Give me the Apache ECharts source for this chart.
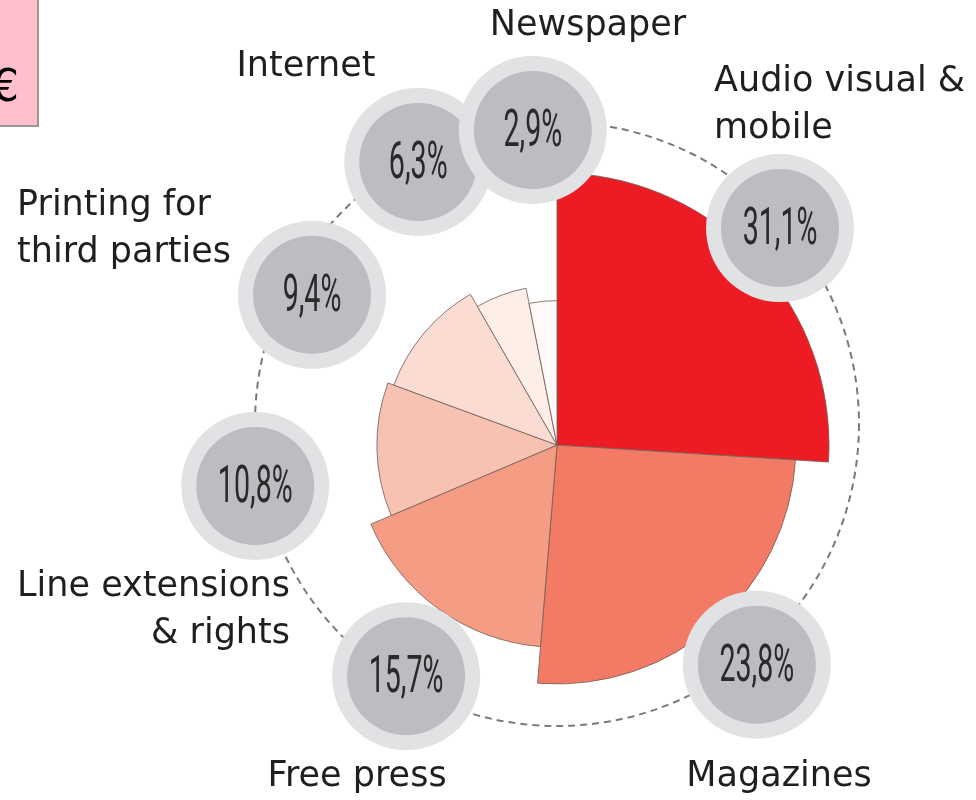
<!DOCTYPE html>
<html>
<head>
<meta charset="utf-8">
<style>
  html, body { margin: 0; padding: 0; background: #ffffff; }
  #chart { width: 976px; height: 800px; }
</style>
<script src="https://cdn.jsdelivr.net/npm/echarts@6/dist/echarts.min.js"></script>
</head>
<body>
<div id="chart"></div>
<script>
// ---- data ----
const categories = ['Audio visual & mobile', 'Magazines', 'Free press', 'Line extensions & rights',
                    'Printing for third parties', 'Internet', 'Newspaper'];
// printed shares (%)
const slicePct = [31.1, 23.8, 15.7, 10.8, 9.4, 6.3, 2.9];
// angular share of each slice as drawn in the source graphic (% of the full circle)
const angleShare = [26.0, 25.3, 17.3, 12.0, 11.1, 5.2, 3.1];
// label texts for the category names (line breaks as printed)
const categoryLabels = ['Audio visual &\nmobile', 'Magazines', 'Free press', 'Line extensions\n& rights',
                        'Printing for\nthird parties', 'Internet', 'Newspaper'];

// ---- styling / layout (not data) ----
const sliceColors = ['#ed1c24', '#f37b66', '#f59c85', '#f8c2b2', '#fbdcd2', '#fdeee8', '#fff9f7'];
// badge placement on the dashed ring: angle (deg, clockwise from top) and distance (ring radii)
const badgeAngle = [48.7, 140.3, 210.9, 258.4, 297.8, 332.1, 355.3];
const badgeDist  = [0.983, 1.036, 0.973, 1.02, 0.917, 0.982, 0.977];

const fmtPct = v => v.toFixed(1).replace('.', ',') + '%';

// cumulative angle extents
const sliceData = [];
let acc = 0;
for (let i = 0; i < slicePct.length; i++) {
  sliceData.push([slicePct[i], acc, acc + angleShare[i]]);
  acc += angleShare[i];
}
const badgeData = slicePct.map((v, i) => [badgeAngle[i], badgeDist[i], v]);

const chart = echarts.init(document.getElementById('chart'), null, { renderer: 'canvas' });

const hiddenAxis = {
  axisLine: { show: false }, axisTick: { show: false }, axisLabel: { show: false },
  splitLine: { show: false }, splitArea: { show: false }
};

const labelFont = { fontFamily: 'DejaVu Sans', fontSize: 35, fill: '#1f1f1f', lineHeight: 47 };

const option = {
  animation: false,
  backgroundColor: '#ffffff',
  polar: [
    { center: [557, 445], radius: 272 },
    { center: [557, 424], radius: 302 }
  ],
  angleAxis: [
    Object.assign({ polarIndex: 0, type: 'value', min: 0, max: 100, startAngle: 90, clockwise: true }, hiddenAxis),
    Object.assign({}, hiddenAxis, {
      polarIndex: 1, type: 'value', min: 0, max: 360, startAngle: 90, clockwise: true,
      axisLine: { show: true, lineStyle: { color: '#7a7a7a', width: 2, type: [7, 5] } }
    })
  ],
  radiusAxis: [
    Object.assign({ polarIndex: 0, type: 'value', min: -29, max: 31.1 }, hiddenAxis),
    Object.assign({ polarIndex: 1, type: 'value', min: 0, max: 1 }, hiddenAxis)
  ],
  series: [
    {
      type: 'custom',
      name: 'slices',
      coordinateSystem: 'polar',
      polarIndex: 0,
      z: 2,
      data: sliceData,
      encode: { radius: 0, angle: 1 },
      renderItem: function (params, api) {
        const cs = params.coordSys;
        const pct = api.value(0);
        const p0 = api.coord([pct, api.value(1)]);
        const p1 = api.coord([pct, api.value(2)]);
        const r = Math.hypot(p0[0] - cs.cx, p0[1] - cs.cy);
        const sa = Math.atan2(p0[1] - cs.cy, p0[0] - cs.cx);
        let ea = Math.atan2(p1[1] - cs.cy, p1[0] - cs.cx);
        while (ea <= sa + 1e-6) ea += Math.PI * 2;
        return {
          type: 'sector',
          shape: { cx: cs.cx, cy: cs.cy, r0: 0, r: r, startAngle: sa, endAngle: ea, clockwise: true },
          style: { fill: sliceColors[params.dataIndex], stroke: '#6e5a54', lineWidth: 0.8 }
        };
      }
    },
    {
      type: 'custom',
      name: 'badges',
      coordinateSystem: 'polar',
      polarIndex: 1,
      z: 5,
      data: badgeData,
      encode: { angle: 0, radius: 1 },
      renderItem: function (params, api) {
        const p = api.coord([api.value(1), api.value(0)]);
        return {
          type: 'group', x: p[0], y: p[1],
          children: [
            { type: 'circle', shape: { cx: 0, cy: 0, r: 74 }, style: { fill: '#e1e2e4' } },
            { type: 'circle', shape: { cx: 0, cy: 0, r: 59 }, style: { fill: '#bcbdc0' } },
            { type: 'text', x: 0, y: 3, scaleX: 0.55,
              style: { text: fmtPct(api.value(2)), fontFamily: 'Roboto', fontWeight: 'normal', fontSize: 52,
                       fill: '#2a2a2a', align: 'center', verticalAlign: 'middle' } }
          ]
        };
      }
    }
  ],
  graphic: [
    { type: 'rect', shape: { x: -4, y: -4, width: 42, height: 130 },
      style: { fill: '#ffc0cb', stroke: '#999999', lineWidth: 2 }, z: 1 },
    { type: 'text', x: 19, y: 90, z: 2,
      style: { text: '€', fontFamily: 'DejaVu Sans', fontSize: 44, fill: '#000', align: 'right', verticalAlign: 'middle' } },

    { type: 'text', x: 714, y: 105, z: 3,
      style: Object.assign({ text: categoryLabels[0], align: 'left', verticalAlign: 'middle' }, labelFont) },
    { type: 'text', x: 779, y: 777, z: 3,
      style: Object.assign({ text: categoryLabels[1], align: 'center', verticalAlign: 'middle' }, labelFont) },
    { type: 'text', x: 357, y: 777, z: 3,
      style: Object.assign({ text: categoryLabels[2], align: 'center', verticalAlign: 'middle' }, labelFont) },
    { type: 'text', x: 290, y: 610, z: 3,
      style: Object.assign({ text: categoryLabels[3], align: 'right', verticalAlign: 'middle' }, labelFont) },
    { type: 'text', x: 17, y: 229, z: 3,
      style: Object.assign({ text: categoryLabels[4], align: 'left', verticalAlign: 'middle' }, labelFont) },
    { type: 'text', x: 306, y: 67, z: 3,
      style: Object.assign({ text: categoryLabels[5], align: 'center', verticalAlign: 'middle' }, labelFont) },
    { type: 'text', x: 588, y: 26, z: 3,
      style: Object.assign({ text: categoryLabels[6], align: 'center', verticalAlign: 'middle' }, labelFont) }
  ]
};

chart.setOption(option);
</script>
</body>
</html>
